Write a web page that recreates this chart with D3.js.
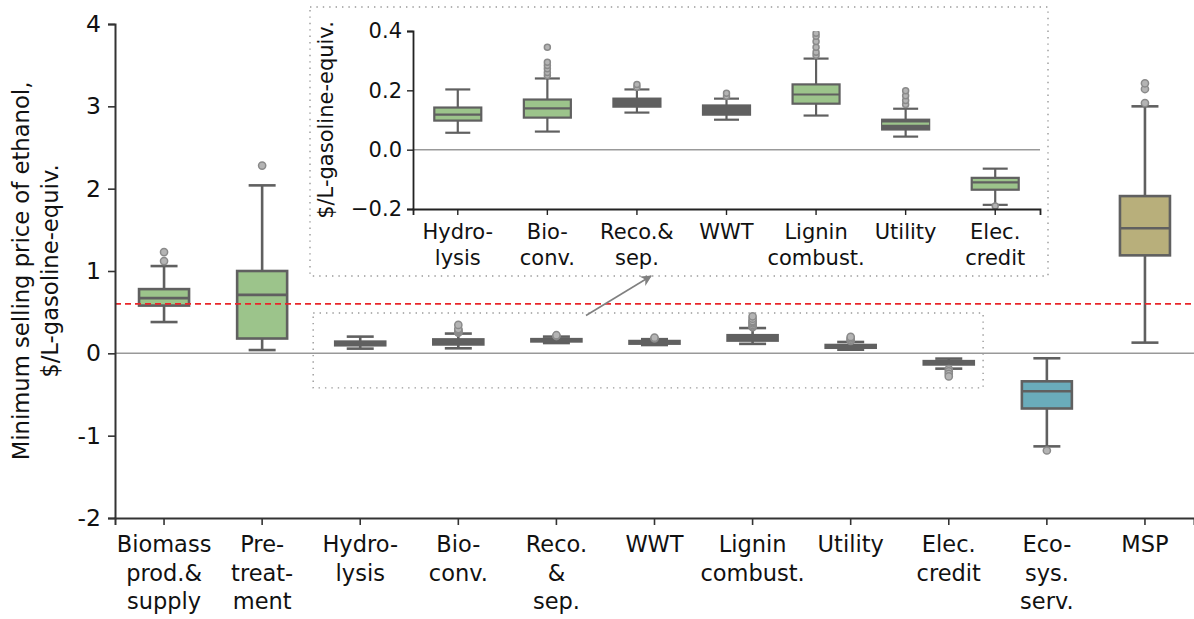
<!DOCTYPE html>
<html>
<head>
<meta charset="utf-8">
<script src="https://cdn.jsdelivr.net/npm/d3@7"></script>
<style>
  body { margin: 0; background: #fff; }
  text { font-family: "DejaVu Sans", sans-serif; fill: #111; }
</style>
</head>
<body>
<svg id="chart" width="1194" height="619"></svg>
<script>
// categories (multi-line tick labels)
const mainLabels = [["Biomass","prod.&","supply"],["Pre-","treat-","ment"],["Hydro-","lysis"],["Bio-","conv."],
  ["Reco.","&","sep."],["WWT"],["Lignin","combust."],["Utility"],["Elec.","credit"],["Eco-","sys.","serv."],["MSP"]];
const insetLabels = [["Hydro-","lysis"],["Bio-","conv."],["Reco.&","sep."],["WWT"],["Lignin","combust."],["Utility"],["Elec.","credit"]];
const insetIdx = [2,3,4,5,6,7,8]; // which main categories are zoomed in the inset

// box statistics, $/L-gasoline-equiv.
const whiskerLow  = [0.38, 0.04, 0.057, 0.061, 0.125, 0.101, 0.115, 0.044, -0.186, -1.13, 0.13];
const q1Vals      = [0.58, 0.18, 0.098, 0.108, 0.145, 0.118, 0.155, 0.068, -0.135, -0.67, 1.19];
const medianVals  = [0.67, 0.71, 0.118, 0.139, 0.159, 0.135, 0.186, 0.088, -0.11, -0.46, 1.52];
const q3Vals      = [0.78, 1.00, 0.142, 0.169, 0.172, 0.149, 0.220, 0.101, -0.095, -0.34, 1.91];
const whiskerHigh = [1.06, 2.04, 0.203, 0.240, 0.203, 0.172, 0.307, 0.138, -0.064, -0.06, 3.00];
const outlierVals = [[1.12,1.23],[2.28],[],[0.25,0.26,0.273,0.284,0.295,0.345],[0.21,0.22],[0.18,0.19],
  [0.318,0.328,0.345,0.365,0.382,0.392,0.42,0.45],[0.152,0.166,0.182,0.199],[-0.19,-0.22,-0.25,-0.28],[-1.18],[3.04,3.21,3.28]];
const mainTicks = [-2,-1,0,1,2,3,4];
const insetTicks = [-0.2,0,0.2,0.4];
const targetMSP = 0.6;

const green = "#9cc48b", gray = "#606060", teal = "#6aacbb", khaki = "#b8af7b";
const mainFill = [green, green, gray, gray, gray, gray, gray, gray, gray, teal, khaki];
const insetFill = [green, green, gray, gray, green, gray, green];
const insetMedian = [gray, gray, gray, gray, gray, green, gray];

const svg = d3.select("#chart");

const x = d3.scaleBand().domain(d3.range(mainLabels.length)).range([115, 1194]);
const y = d3.scaleLinear().domain([-2, 4]).range([518, 24]);

function drawBoxes(g, idx, xs, ys, fills, meds, boxW, capW, lw, r) {
  idx.forEach((k, i) => {
    const cx = xs(i) + xs.bandwidth() / 2;
    const b = g.append("g");
    b.append("line").attr("x1", cx).attr("x2", cx).attr("y1", ys(whiskerLow[k])).attr("y2", ys(q1Vals[k]))
      .attr("stroke", gray).attr("stroke-width", lw);
    b.append("line").attr("x1", cx).attr("x2", cx).attr("y1", ys(q3Vals[k])).attr("y2", ys(whiskerHigh[k]))
      .attr("stroke", gray).attr("stroke-width", lw);
    [whiskerLow[k], whiskerHigh[k]].forEach(v => {
      b.append("line").attr("x1", cx - capW / 2).attr("x2", cx + capW / 2).attr("y1", ys(v)).attr("y2", ys(v))
        .attr("stroke", gray).attr("stroke-width", lw);
    });
    b.append("rect").attr("x", cx - boxW / 2).attr("width", boxW)
      .attr("y", ys(q3Vals[k])).attr("height", ys(q1Vals[k]) - ys(q3Vals[k]))
      .attr("fill", fills[i]).attr("stroke", gray).attr("stroke-width", lw);
    b.append("line").attr("x1", cx - boxW / 2).attr("x2", cx + boxW / 2)
      .attr("y1", ys(medianVals[k])).attr("y2", ys(medianVals[k]))
      .attr("stroke", meds[i]).attr("stroke-width", lw);
    b.selectAll("circle").data(outlierVals[k]).enter().append("circle")
      .attr("cx", cx).attr("cy", d => ys(d)).attr("r", r)
      .attr("fill", "#b4b4b4").attr("stroke", "#8a8a8a").attr("stroke-width", 1.5);
  });
}

function multiline(axisG, labels, lineH) {
  axisG.selectAll(".tick text").each(function(d) {
    const t = d3.select(this).text(null);
    labels[d].forEach((s, j) => t.append("tspan").attr("x", 0).attr("dy", j === 0 ? "0.71em" : lineH).text(s));
  });
}

// ---- main axes ----
svg.append("line").attr("x1", 115).attr("x2", 1194).attr("y1", y(0)).attr("y2", y(0))
  .attr("stroke", "#999").attr("stroke-width", 1.5);

drawBoxes(svg.append("g"), d3.range(mainLabels.length), x, y, mainFill, mainFill.map(() => gray), 50, 27, 2.6, 3.6);

// dotted box marking the zoomed region
svg.append("rect")
  .attr("x", x(2) + 2).attr("y", y(0.49))
  .attr("width", x(8) + x.bandwidth() * 0.85 - x(2) - 2).attr("height", y(-0.42) - y(0.49))
  .attr("fill", "none").attr("stroke", "#999").attr("stroke-width", 1.4).attr("stroke-dasharray", "1.4,5");

svg.append("line").attr("x1", 115).attr("x2", 1194).attr("y1", y(targetMSP)).attr("y2", y(targetMSP))
  .attr("stroke", "#e8262a").attr("stroke-width", 1.8).attr("stroke-dasharray", "6,4");

const yAxisG = svg.append("g").attr("transform", "translate(115,0)")
  .call(d3.axisLeft(y).tickValues(mainTicks).tickFormat(d => String(d)).tickSizeOuter(0).tickSize(7).tickPadding(7));
const xAxisG = svg.append("g").attr("transform", "translate(0,518)")
  .call(d3.axisBottom(x).tickSizeOuter(0).tickSize(7).tickPadding(11));
[yAxisG, xAxisG].forEach(g => {
  g.select(".domain").attr("stroke", "#333").attr("stroke-width", 2);
  g.selectAll(".tick line").attr("stroke", "#333").attr("stroke-width", 1.6);
  g.selectAll(".tick text").attr("font-size", 23.5).attr("fill", "#111");
});
xAxisG.selectAll(".tick text").attr("font-size", 22.5);
multiline(xAxisG, mainLabels, "1.27em");

svg.append("text").attr("transform", "translate(29,271) rotate(-90)").attr("text-anchor", "middle")
  .attr("font-size", 22.7).text("Minimum selling price of ethanol,");
svg.append("text").attr("transform", "translate(58,271) rotate(-90)").attr("text-anchor", "middle")
  .attr("font-size", 22.7).text("$/L-gasoline-equiv.");

// ---- inset ----
const xi = d3.scaleBand().domain(d3.range(insetLabels.length)).range([413, 1040]);
const yi = d3.scaleLinear().domain([-0.2, 0.4]).range([209, 31]);

svg.append("rect").attr("x", 310).attr("y", 7).attr("width", 738).attr("height", 269)
  .attr("fill", "#fff").attr("stroke", "#999").attr("stroke-width", 1.4).attr("stroke-dasharray", "1.4,5");

svg.append("defs").append("clipPath").attr("id", "insetClip")
  .append("rect").attr("x", 413).attr("y", 31).attr("width", 627).attr("height", 178);
svg.append("line").attr("x1", 413).attr("x2", 1040).attr("y1", yi(0)).attr("y2", yi(0))
  .attr("stroke", "#999").attr("stroke-width", 1.5);
drawBoxes(svg.append("g").attr("clip-path", "url(#insetClip)"), insetIdx, xi, yi, insetFill, insetMedian, 47, 25, 2.2, 3);

const yiG = svg.append("g").attr("transform", "translate(413,0)")
  .call(d3.axisLeft(yi).tickValues(insetTicks).tickFormat(d3.format(".1f")).tickSizeOuter(0).tickSize(6).tickPadding(5));
const xiG = svg.append("g").attr("transform", "translate(0,209)")
  .call(d3.axisBottom(xi).tickSizeOuter(0).tickSize(6).tickPadding(9));
[yiG, xiG].forEach(g => {
  g.select(".domain").attr("stroke", "#222").attr("stroke-width", 1.8);
  g.selectAll(".tick line").attr("stroke", "#222").attr("stroke-width", 1.4);
  g.selectAll(".tick text").attr("font-size", 21).attr("fill", "#111");
});
multiline(xiG, insetLabels, "1.25em");
svg.append("text").attr("transform", "translate(333,120) rotate(-90)").attr("text-anchor", "middle")
  .attr("font-size", 21).text("$/L-gasoline-equiv.");

// arrow from zoomed region to inset
svg.select("defs").append("marker").attr("id", "arrowHead").attr("viewBox", "0 0 10 10")
  .attr("refX", 9).attr("refY", 5).attr("markerWidth", 7).attr("markerHeight", 7).attr("orient", "auto")
  .append("path").attr("d", "M0,0 L10,5 L0,10 L3,5 Z").attr("fill", "#808080");
svg.append("line").attr("x1", 586).attr("y1", y(0.46)).attr("x2", 651).attr("y2", 276)
  .attr("stroke", "#808080").attr("stroke-width", 1.6).attr("marker-end", "url(#arrowHead)");
</script>
</body>
</html>
